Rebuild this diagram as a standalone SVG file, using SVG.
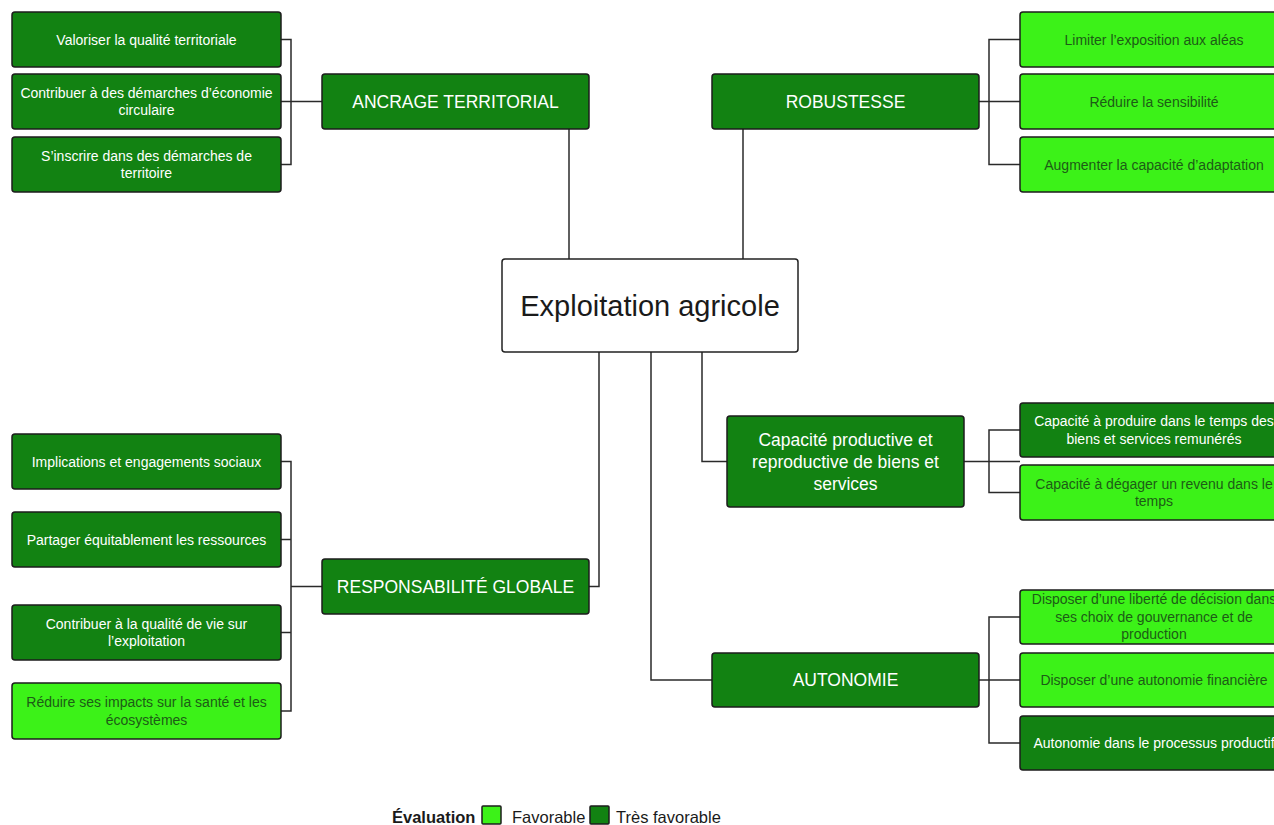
<svg xmlns="http://www.w3.org/2000/svg" width="1274" height="825" viewBox="0 0 1274 825">
<style>
  text { font-family: "Liberation Sans", Arial, Helvetica, sans-serif; text-anchor: middle; }
  .dark { fill: #128212; stroke: #1c1c1c; stroke-width: 1.5; }
  .light { fill: #3cf218; stroke: #1c1c1c; stroke-width: 1.5; }
  .center { fill: #ffffff; stroke: #222222; stroke-width: 1.5; }
  .lt { font-size: 14px; }
  .ct { font-size: 17.5px; }
  .wt { fill: #ffffff; }
  .gt { fill: #1d5c16; }
  .conn { fill: none; stroke: #2a2a2a; stroke-width: 1.5; }
  .leg { font-size: 16.5px; fill: #1a1a1a; text-anchor: start; }
</style>
<rect width="1274" height="825" fill="#ffffff"/>
<g id="connectors" class="conn">
  <path d="M281,39.5 H291 V164.5 H281 M281,101.5 H322"/>
  <path d="M569,129 V259"/>
  <path d="M743,129 V259"/>
  <path d="M1020,39.5 H989 V164.5 H1020 M979,101.5 H1020"/>
  <path d="M702,352 V461.5 H727"/>
  <path d="M1020,430 H989 V492.5 H1020 M964,461.5 H1020"/>
  <path d="M651,352 V680 H712"/>
  <path d="M1020,617 H989 V743 H1020 M979,680 H1020"/>
  <path d="M599,352 V586.5 H589"/>
  <path d="M281,461.5 H291 V711 H281 M281,539.5 H291 M281,632.5 H291 M291,586.5 H322"/>
</g>
<g id="central">
  <rect class="center" x="502" y="259" width="296" height="93" rx="3"/>
  <text x="650" y="316" font-size="29" fill="#1a1a1a">Exploitation agricole</text>
</g>
<g id="ancrage">
  <rect class="dark" x="322" y="74" width="267" height="55" rx="3"/>
  <text class="ct wt" x="455.5" y="107.5">ANCRAGE TERRITORIAL</text>
</g>
<g id="a1">
  <rect class="dark" x="12" y="12" width="269" height="55" rx="3"/>
  <text class="lt wt" x="146.5" y="44.5">Valoriser la qualité territoriale</text>
</g>
<g id="a2">
  <rect class="dark" x="12" y="74" width="269" height="55" rx="3"/>
  <text class="lt wt" x="146.5" y="97.5">Contribuer à des démarches d’économie</text>
  <text class="lt wt" x="146.5" y="115">circulaire</text>
</g>
<g id="a3">
  <rect class="dark" x="12" y="137" width="269" height="55" rx="3"/>
  <text class="lt wt" x="146.5" y="160.5">S’inscrire dans des démarches de</text>
  <text class="lt wt" x="146.5" y="178">territoire</text>
</g>
<g id="robustesse">
  <rect class="dark" x="712" y="74" width="267" height="55" rx="3"/>
  <text class="ct wt" x="845.5" y="107.5">ROBUSTESSE</text>
</g>
<g id="r1">
  <rect class="light" x="1020" y="12" width="268" height="55" rx="3"/>
  <text class="lt gt" x="1154" y="44.5">Limiter l’exposition aux aléas</text>
</g>
<g id="r2">
  <rect class="light" x="1020" y="74" width="268" height="55" rx="3"/>
  <text class="lt gt" x="1154" y="106.5">Réduire la sensibilité</text>
</g>
<g id="r3">
  <rect class="light" x="1020" y="137" width="268" height="55" rx="3"/>
  <text class="lt gt" x="1154" y="169.5">Augmenter la capacité d’adaptation</text>
</g>
<g id="capacite">
  <rect class="dark" x="727" y="416" width="237" height="91" rx="3"/>
  <text class="ct wt" x="845.5" y="445.5">Capacité productive et</text>
  <text class="ct wt" x="845.5" y="467.5">reproductive de biens et</text>
  <text class="ct wt" x="845.5" y="489.5">services</text>
</g>
<g id="c1">
  <rect class="dark" x="1020" y="403" width="268" height="54" rx="3"/>
  <text class="lt wt" x="1154" y="426">Capacité à produire dans le temps des</text>
  <text class="lt wt" x="1154" y="443.5">biens et services remunérés</text>
</g>
<g id="c2">
  <rect class="light" x="1020" y="465" width="268" height="55" rx="3"/>
  <text class="lt gt" x="1154" y="488.5">Capacité à dégager un revenu dans le</text>
  <text class="lt gt" x="1154" y="506">temps</text>
</g>
<g id="autonomie">
  <rect class="dark" x="712" y="653" width="267" height="54" rx="3"/>
  <text class="ct wt" x="845.5" y="686">AUTONOMIE</text>
</g>
<g id="au1">
  <rect class="light" x="1020" y="590" width="268" height="54" rx="3"/>
  <text class="lt gt" x="1154" y="604">Disposer d’une liberté de décision dans</text>
  <text class="lt gt" x="1154" y="621.5">ses choix de gouvernance et de</text>
  <text class="lt gt" x="1154" y="639">production</text>
</g>
<g id="au2">
  <rect class="light" x="1020" y="653" width="268" height="54" rx="3"/>
  <text class="lt gt" x="1154" y="685">Disposer d’une autonomie financière</text>
</g>
<g id="au3">
  <rect class="dark" x="1020" y="716" width="268" height="54" rx="3"/>
  <text class="lt wt" x="1154" y="748">Autonomie dans le processus productif</text>
</g>
<g id="responsabilite">
  <rect class="dark" x="322" y="559" width="267" height="55" rx="3"/>
  <text class="ct wt" x="455.5" y="592.5">RESPONSABILITÉ GLOBALE</text>
</g>
<g id="g1">
  <rect class="dark" x="12" y="434" width="269" height="55" rx="3"/>
  <text class="lt wt" x="146.5" y="466.5">Implications et engagements sociaux</text>
</g>
<g id="g2">
  <rect class="dark" x="12" y="512" width="269" height="55" rx="3"/>
  <text class="lt wt" x="146.5" y="544.5">Partager équitablement les ressources</text>
</g>
<g id="g3">
  <rect class="dark" x="12" y="605" width="269" height="55" rx="3"/>
  <text class="lt wt" x="146.5" y="628.5">Contribuer à la qualité de vie sur</text>
  <text class="lt wt" x="146.5" y="646">l’exploitation</text>
</g>
<g id="g4">
  <rect class="light" x="12" y="683" width="269" height="56" rx="3"/>
  <text class="lt gt" x="146.5" y="707">Réduire ses impacts sur la santé et les</text>
  <text class="lt gt" x="146.5" y="724.5">écosystèmes</text>
</g>
<g id="legend">
  <text class="leg" x="392" y="823" font-weight="bold">Évaluation</text>
  <rect class="light" x="482" y="806" width="19" height="18" rx="1"/>
  <text class="leg" x="512" y="823">Favorable</text>
  <rect class="dark" x="590" y="806" width="19" height="18" rx="1"/>
  <text class="leg" x="616" y="823">Très favorable</text>
</g>
</svg>
